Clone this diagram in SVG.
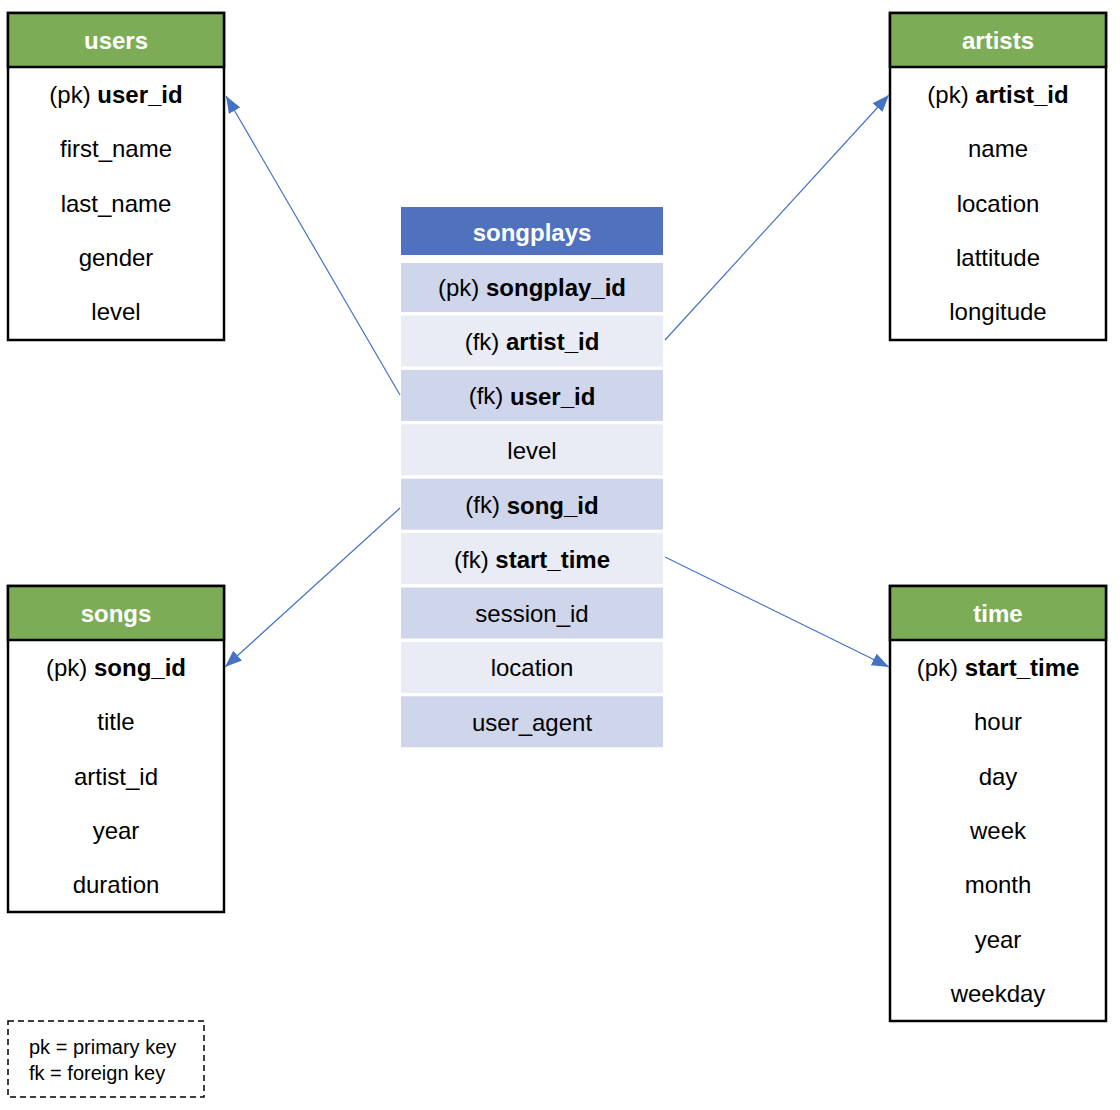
<svg xmlns="http://www.w3.org/2000/svg" width="1120" height="1110" viewBox="0 0 1120 1110">
<defs>
<style>
text{font-family:"Liberation Sans",Arial,sans-serif;font-size:24px;fill:#000;text-anchor:middle;dominant-baseline:central}
.hd{font-weight:bold;fill:#fff;font-size:24px}
.b{font-weight:bold}
.frame{fill:#fff;stroke:#000;stroke-width:2.5}
.ghead{fill:#7CAC56;stroke:#000;stroke-width:2.5}
.bhead{fill:#4F71BE}
.dk{fill:#CFD5EA}
.lt{fill:#E9EBF5}
.conn{stroke:#4472C4;stroke-width:1.2;fill:none;marker-end:url(#arr)}
.leg{font-size:20px;text-anchor:start}
</style>
<marker id="arr" viewBox="0 0 17 13" refX="17" refY="6.5" markerWidth="17" markerHeight="13" markerUnits="userSpaceOnUse" orient="auto">
<path d="M0,0 L17,6.5 L0,13 z" fill="#4472C4"/>
</marker>
</defs>
<rect width="1120" height="1110" fill="#fff"/>

<g id="users">
<rect class="frame" x="8" y="13" width="216" height="327"/>
<rect class="ghead" x="8" y="13" width="216" height="54"/>
<text class="hd" x="116" y="40">users</text>
<text x="116" y="94.2">(pk) <tspan class="b">user_id</tspan></text>
<text x="116" y="148.6">first_name</text>
<text x="116" y="203">last_name</text>
<text x="116" y="257.4">gender</text>
<text x="116" y="311.8">level</text>
</g>

<g id="artists">
<rect class="frame" x="890" y="13" width="216" height="327"/>
<rect class="ghead" x="890" y="13" width="216" height="54"/>
<text class="hd" x="998" y="40">artists</text>
<text x="998" y="94.2">(pk) <tspan class="b">artist_id</tspan></text>
<text x="998" y="148.6">name</text>
<text x="998" y="203">location</text>
<text x="998" y="257.4">lattitude</text>
<text x="998" y="311.8">longitude</text>
</g>

<g id="songs">
<rect class="frame" x="8" y="586" width="216" height="326"/>
<rect class="ghead" x="8" y="586" width="216" height="54"/>
<text class="hd" x="116" y="613">songs</text>
<text x="116" y="667.2">(pk) <tspan class="b">song_id</tspan></text>
<text x="116" y="721.6">title</text>
<text x="116" y="776">artist_id</text>
<text x="116" y="830.4">year</text>
<text x="116" y="884.8">duration</text>
</g>

<g id="time">
<rect class="frame" x="890" y="586" width="216" height="435"/>
<rect class="ghead" x="890" y="586" width="216" height="54"/>
<text class="hd" x="998" y="613">time</text>
<text x="998" y="667.2">(pk) <tspan class="b">start_time</tspan></text>
<text x="998" y="721.6">hour</text>
<text x="998" y="776">day</text>
<text x="998" y="830.4">week</text>
<text x="998" y="884.8">month</text>
<text x="998" y="939.2">year</text>
<text x="998" y="993.6">weekday</text>
</g>

<g id="songplays">
<rect class="bhead" x="401" y="207" width="262" height="48"/>
<text class="hd" x="532" y="232">songplays</text>
<rect class="dk" x="401" y="263" width="262" height="49"/>
<text x="532" y="287">(pk) <tspan class="b">songplay_id</tspan></text>
<rect class="lt" x="401" y="315.5" width="262" height="51"/>
<text x="532" y="341.4">(fk) <tspan class="b">artist_id</tspan></text>
<rect class="dk" x="401" y="369.9" width="262" height="51"/>
<text x="532" y="395.8">(fk) <tspan class="b">user_id</tspan></text>
<rect class="lt" x="401" y="424.3" width="262" height="51"/>
<text x="532" y="450.2">level</text>
<rect class="dk" x="401" y="478.7" width="262" height="51"/>
<text x="532" y="504.6">(fk) <tspan class="b">song_id</tspan></text>
<rect class="lt" x="401" y="533.1" width="262" height="51"/>
<text x="532" y="559">(fk) <tspan class="b">start_time</tspan></text>
<rect class="dk" x="401" y="587.5" width="262" height="51"/>
<text x="532" y="613.4">session_id</text>
<rect class="lt" x="401" y="641.9" width="262" height="51"/>
<text x="532" y="667.8">location</text>
<rect class="dk" x="401" y="696.3" width="262" height="51"/>
<text x="532" y="722.2">user_agent</text>
</g>

<g id="connectors">
<line class="conn" x1="400" y1="395" x2="226" y2="96"/>
<line class="conn" x1="665" y1="340" x2="889" y2="95"/>
<line class="conn" x1="400" y1="508" x2="225" y2="667"/>
<line class="conn" x1="665" y1="557" x2="889" y2="667"/>
</g>

<g id="legend">
<rect x="8" y="1021" width="196" height="76" fill="none" stroke="#000" stroke-width="1.5" stroke-dasharray="6,4"/>
<text class="leg" x="29" y="1047">pk = primary key</text>
<text class="leg" x="29" y="1073">fk = foreign key</text>
</g>
</svg>
